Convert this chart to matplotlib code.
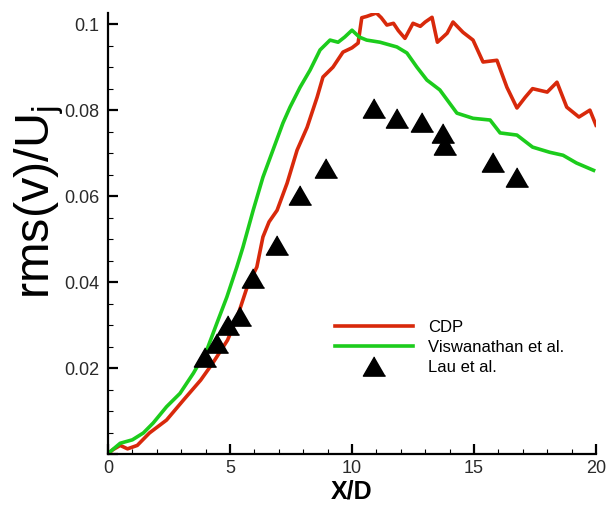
import numpy as np
import matplotlib
matplotlib.use('Agg')
import matplotlib.pyplot as plt
from matplotlib.ticker import MultipleLocator, FuncFormatter

plt.rcParams['font.family'] = ['Liberation Sans', 'DejaVu Sans']
plt.rcParams['mathtext.fontset'] = 'custom'
plt.rcParams['mathtext.rm'] = 'Liberation Sans'
plt.rcParams['mathtext.it'] = 'Liberation Sans'

# CDP simulation
cdp_x = [0.0, 0.2, 0.5, 0.8, 1.2, 1.7, 2.4, 3.1, 3.8, 4.3, 4.9, 5.3, 5.7, 6.1, 6.35,
         6.6, 6.93, 7.34, 7.75, 8.16, 8.57, 8.81, 9.22, 9.63, 10.0, 10.25, 10.4, 10.6,
         11.0, 11.2, 11.43, 11.7, 11.9, 12.17, 12.5, 12.8, 13.0, 13.28, 13.5, 13.9,
         14.14, 14.55, 14.96, 15.37, 15.94, 16.35, 16.76, 17.1, 17.4, 18.0, 18.4,
         18.8, 19.3, 19.75, 20.0]
cdp_y = [0.0, 0.001, 0.002, 0.0012, 0.002, 0.0049, 0.0079, 0.0126, 0.0172, 0.0212,
         0.0265, 0.0319, 0.0388, 0.0435, 0.0505, 0.054, 0.0567, 0.063, 0.0707, 0.076,
         0.083, 0.0877, 0.09, 0.0935, 0.0945, 0.0956, 0.1015, 0.1018, 0.1026, 0.1015,
         0.0998, 0.1002, 0.0985, 0.0967, 0.1002, 0.0995, 0.1005, 0.1016, 0.0958,
         0.0979, 0.1005, 0.0981, 0.0963, 0.0912, 0.0916, 0.0853, 0.0805, 0.083,
         0.085, 0.0842, 0.0865, 0.0807, 0.0784, 0.080, 0.0765]

# Viswanathan et al.
vis_x = [0.0, 0.08, 0.5, 1.0, 1.45, 1.85, 2.4, 2.95, 3.5, 4.05, 4.46, 4.87, 5.28,
         5.53, 5.95, 6.35, 6.76, 7.17, 7.46, 7.87, 8.28, 8.69, 9.1, 9.43, 9.7, 10.0,
         10.3, 10.6, 11.15, 11.84, 12.25, 12.66, 13.07, 13.6, 14.3, 14.96, 15.66,
         16.07, 16.76, 17.4, 18.1, 18.65, 19.2, 19.9]
vis_y = [0.0, 0.0005, 0.0025, 0.0033, 0.0049, 0.0072, 0.011, 0.0141, 0.0188, 0.0242,
         0.0304, 0.0365, 0.0435, 0.0481, 0.0567, 0.0644, 0.0707, 0.077, 0.0807,
         0.0853, 0.0893, 0.094, 0.0963, 0.0958, 0.097, 0.0986, 0.097, 0.0963, 0.0958,
         0.0947, 0.0933, 0.090, 0.087, 0.0847, 0.0793, 0.0781, 0.0777, 0.0747,
         0.0742, 0.0714, 0.0702, 0.0695, 0.0677, 0.066]

# Lau et al. experiment
lau_x = [3.98, 4.46, 4.92, 5.4, 5.95, 6.93, 7.87, 8.93, 10.9, 11.84, 12.87, 13.73,
         13.8, 15.78, 16.76]
lau_y = [0.0226, 0.0258, 0.030, 0.032, 0.041, 0.0486, 0.0602, 0.0665, 0.0805,
         0.0781, 0.0772, 0.0747, 0.0719, 0.0679, 0.0644]

fig = plt.figure(figsize=(6.08, 5.11), dpi=100)
ax = fig.add_axes([108/608, 57/511, 488/608, 441/511])

tri = [(0, 0.866), (-1, -0.866), (1, -0.866)]
ax.plot(cdp_x, cdp_y, color='#d8290b', lw=2.6, label='CDP')
ax.plot(vis_x, vis_y, color='#1ccc1c', lw=2.6, label='Viswanathan et al.')
ax.plot(lau_x, lau_y, ls='none', marker=tri, ms=16, color='black', label='Lau et al.')

ax.set_xlim(0, 20)
ax.set_ylim(0, 0.1026)
ax.spines['top'].set_visible(False)
ax.spines['right'].set_visible(False)
for s in ['left', 'bottom']:
    ax.spines[s].set_linewidth(1.6)

ax.xaxis.set_major_locator(MultipleLocator(5))
ax.xaxis.set_minor_locator(MultipleLocator(1))
ax.yaxis.set_major_locator(MultipleLocator(0.02))
ax.yaxis.set_minor_locator(MultipleLocator(0.005))
ax.yaxis.set_major_formatter(FuncFormatter(lambda v, p: '' if v < 1e-9 else f'{v:g}'))
ax.tick_params(which='major', direction='in', length=7, width=1.6, labelsize=13,
               labelcolor='#2a2a2a')
ax.tick_params(which='minor', direction='in', length=3.5, width=0.8)
ax.tick_params(axis='y', pad=6)
ax.tick_params(axis='x', pad=4)

ax.set_xlabel('X/D', fontsize=18, fontweight='bold', labelpad=2)
fig.text(12/608, 0.605, r'rms(v)/U$_{\mathrm{j}}$', rotation=90, fontsize=35,
         ha='left', va='center')

ax.legend(loc='upper left', bbox_to_anchor=(0.465, 0.304), frameon=False,
          fontsize=12, handlelength=4.7, handletextpad=0.9, labelspacing=0.3,
          borderpad=0, borderaxespad=0)

fig.savefig('out.png', dpi=100)
